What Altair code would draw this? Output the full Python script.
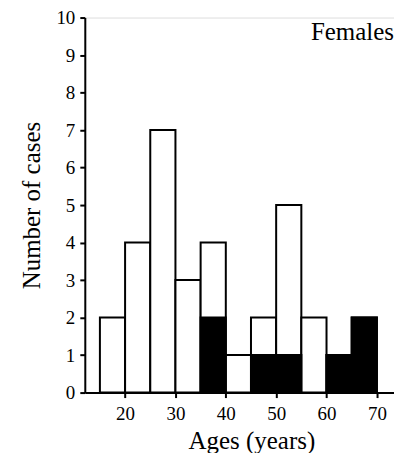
import altair as alt
import pandas as pd

bin_start = [15, 20, 25, 30, 35, 40, 45, 50, 55, 60, 65]
bin_end = [20, 25, 30, 35, 40, 45, 50, 55, 60, 65, 70]
totals = [2, 4, 7, 3, 4, 1, 2, 5, 2, 1, 2]
black_counts = [0, 0, 0, 0, 2, 0, 1, 1, 0, 1, 2]
x_ticks = [20, 30, 40, 50, 60, 70]
y_ticks = [0, 1, 2, 3, 4, 5, 6, 7, 8, 9, 10]

df = pd.DataFrame({"x0": bin_start, "x1": bin_end, "total": totals, "black": black_counts})
df_black = df[df["black"] > 0]

FONT = "Liberation Serif"

xscale = alt.Scale(domain=[12, 73.4], nice=False, zero=False)
yscale = alt.Scale(domain=[0, 10], nice=False)

xaxis = alt.Axis(values=x_ticks, title="Ages (years)", grid=False,
                 labelFont=FONT, labelFontSize=19, labelColor="black", labelPadding=7,
                 labelOverlap=False,
                 titleFont=FONT, titleFontSize=25, titleFontWeight="normal", titleColor="black",
                 titleX=167, titleY=56, titleBaseline="alphabetic",
                 domainColor="black", domainWidth=2, tickColor="black", tickWidth=2, tickSize=5)
yaxis = alt.Axis(values=y_ticks, title="Number of cases", grid=False,
                 labelFont=FONT, labelFontSize=19, labelColor="black", labelPadding=5,
                 labelOverlap=False, tickCount=11,
                 titleFont=FONT, titleFontSize=25, titleFontWeight="normal", titleColor="black",
                 titleX=-53, titleY=188, titleBaseline="middle", titleAlign="center",
                 domainColor="black", domainWidth=2, tickColor="black", tickWidth=2, tickSize=5)

base = alt.Chart(df).mark_rect(fill="white", stroke="black", strokeWidth=2).encode(
    x=alt.X("x0:Q", scale=xscale, axis=xaxis),
    x2="x1:Q",
    y=alt.Y("total:Q", scale=yscale, axis=yaxis),
    y2=alt.datum(0),
)

blk = alt.Chart(df_black).mark_rect(fill="black", stroke="black", strokeWidth=2).encode(
    x=alt.X("x0:Q", scale=xscale, axis=xaxis),
    x2="x1:Q",
    y=alt.Y("black:Q", scale=yscale, axis=yaxis),
    y2=alt.datum(0),
)

label = alt.Chart(pd.DataFrame({"t": ["Females"]})).mark_text(
    font=FONT, fontSize=25, align="right", baseline="alphabetic", color="black"
).encode(text="t:N", x=alt.value(310), y=alt.value(23))

chart = alt.layer(base, blk, label).properties(
    width=310, height=376,
    autosize=alt.AutoSizeParams(type="none"),
    padding={"left": 77, "top": 9, "right": 0, "bottom": 60},
).configure_view(stroke=None).configure(background="white")

chart.save("out.html", embed_options={"renderer": "svg", "actions": False})
